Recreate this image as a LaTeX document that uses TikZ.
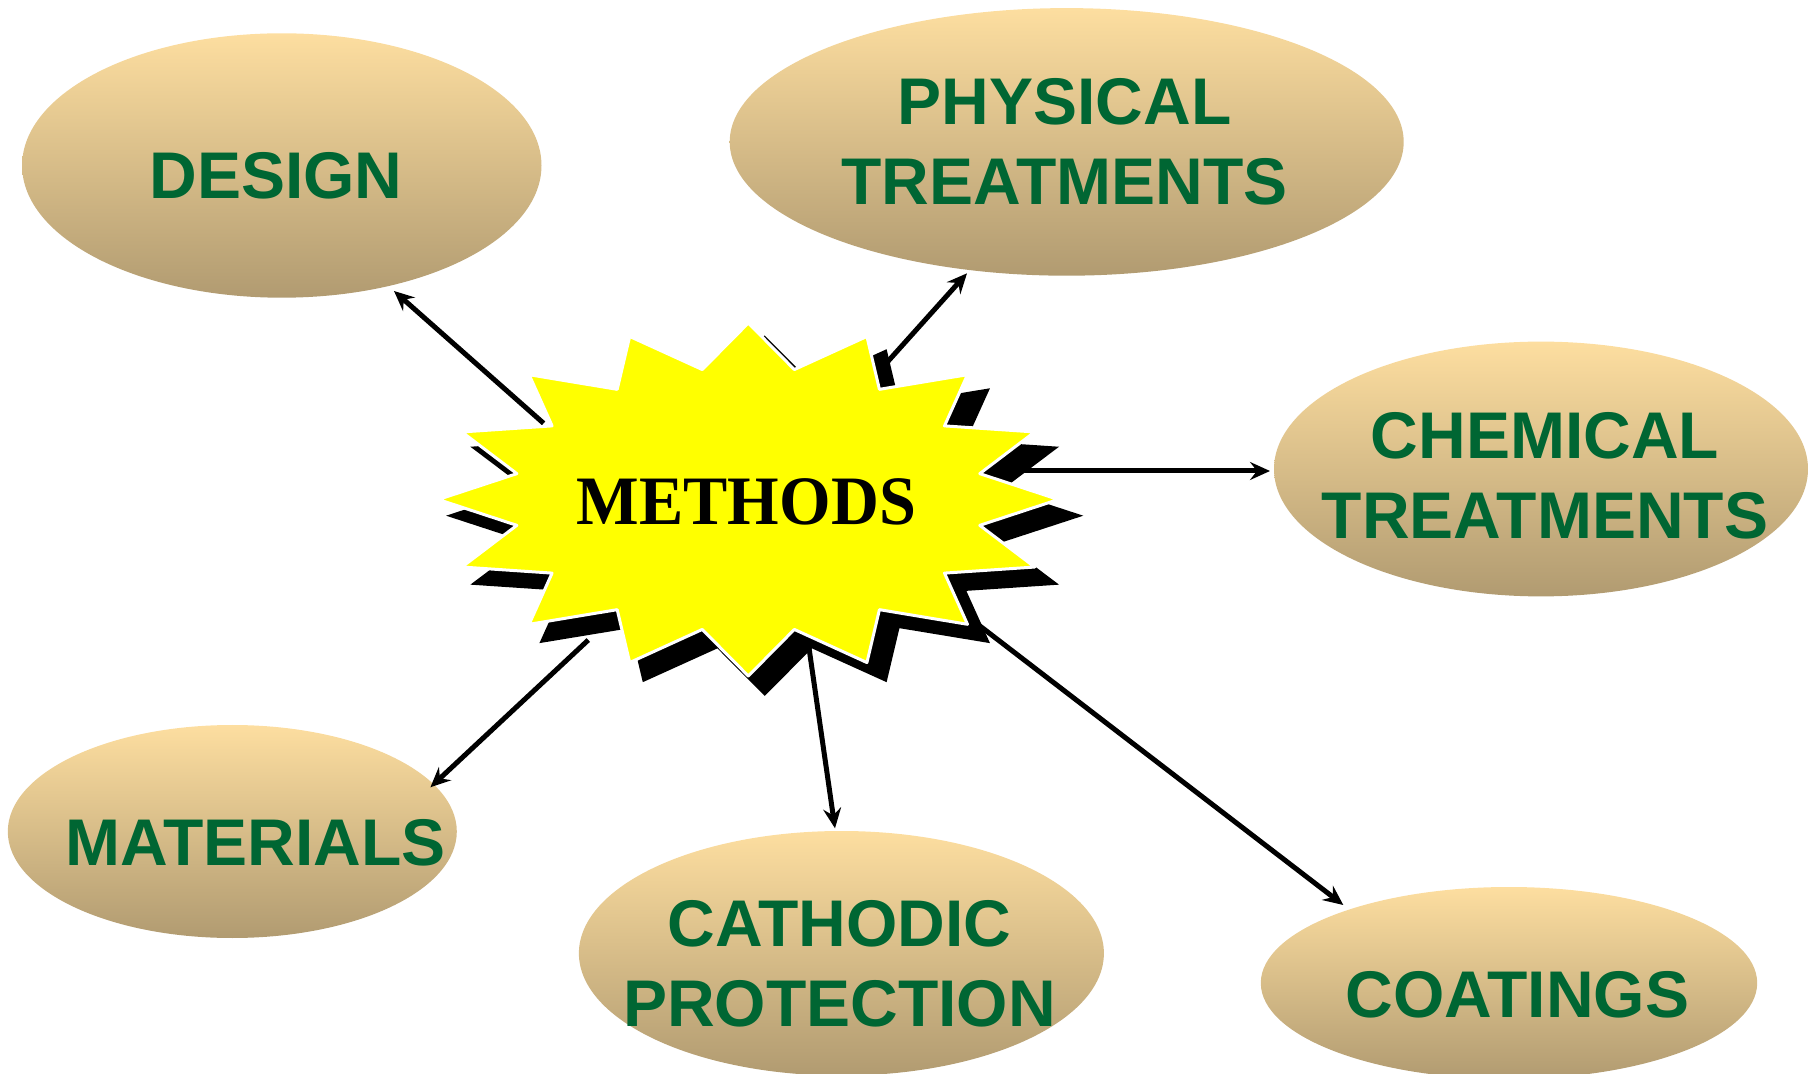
\documentclass[tikz,border=0pt]{standalone}
\usepackage{fontspec}
\setmainfont{Liberation Sans}
\newfontfamily\burstfont{Liberation Serif}
\usetikzlibrary{arrows.meta,shapes.geometric}

\definecolor{labelgreen}{RGB}{0,102,51}
\definecolor{ovaltop}{RGB}{253,222,160}
\definecolor{ovalbottom}{RGB}{177,155,113}
\definecolor{burstyellow}{RGB}{255,255,0}

% sixteen-point burst around the origin (outer tips on one ellipse, notches on a smaller one)
\newcommand\burstoutline{(0,-176.5)
  \foreach \k in {0,...,15} {
    -- ({236*sin(\k*22.5+11.25)},{-132.5*cos(\k*22.5+11.25)})
    -- ({310*sin(\k*22.5+22.5)},{-176.5*cos(\k*22.5+22.5)})
  } -- cycle}

\begin{document}
\begin{tikzpicture}[x=0.5pt,y=-0.5pt,
  oval/.style={ellipse, inner sep=0pt, outer sep=0pt, draw=none,
    top color=ovaltop, bottom color=ovalbottom},
  lbl/.style={anchor=base, inner sep=0pt, text=labelgreen, align=center,
    font=\fontsize{33}{40}\selectfont\bfseries},
  link/.style={draw=black, line width=2.5pt,
    -{Stealth[length=10pt,width=9pt,inset=3.5pt]}}
]
\useasboundingbox (0,0) rectangle (1816,1074);

% the six method ovals
\node[oval, minimum width=259.7pt, minimum height=132.2pt] (design)   at (281.8,165.5) {};
\node[oval, minimum width=337pt,   minimum height=133.8pt] (physical) at (1066.7,141.9) {};
\node[oval, minimum width=267pt,   minimum height=127.4pt] (chemical) at (1541,469) {};
\node[oval, minimum width=224.5pt, minimum height=106.5pt] (materials) at (232.3,831.5) {};
\node[oval, minimum width=262.5pt, minimum height=122.3pt] (cathodic) at (841.4,953.3) {};
\node[oval, minimum width=248.2pt, minimum height=96pt]    (coatings) at (1509,983) {};

% labels (a two-line label sits on the baseline of its last line)
\node[lbl] (design-t)    at (276,199)      {DESIGN};
\node[lbl] (physical-t)  at (1064.5,204.3) {PHYSICAL\\TREATMENTS};
\node[lbl] (chemical-t)  at (1545,539)     {CHEMICAL\\TREATMENTS};
\node[lbl] (materials-t) at (255.7,865)    {MATERIALS};
\node[lbl] (cathodic-t)  at (839.5,1026.7) {CATHODIC\hspace{0.278em}\\PROTECTION};
\node[lbl] (coatings-t)  at (1517.5,1017)  {COATINGS};

% starting points of the connectors, at the rim of the burst
\coordinate (s-design)    at (543.6,423.3);
\coordinate (s-physical)  at (882,368);
\coordinate (s-chemical)  at (1000,471);
\coordinate (s-coatings)  at (963,613);
\coordinate (s-cathodic)  at (809,648);
\coordinate (s-materials) at (588.3,640);

% arrow tips, placed just at the rim of each oval
\coordinate (t-design)    at ([shift={(112.2,125.5)}]design.center);
\coordinate (t-physical)  at ([shift={(-99.7,131.4)}]physical.center);
\coordinate (t-chemical)  at ([shift={(-271,2)}]chemical.center);
\coordinate (t-coatings)  at ([shift={(-165.7,-78)}]coatings.center);
\coordinate (t-cathodic)  at ([shift={(-6.4,-125)}]cathodic.center);
\coordinate (t-materials) at ([shift={(198.1,-44.2)}]materials.center);

\draw[link] (s-design)    -- (t-design);
\draw[link] (s-physical)  -- (t-physical);
\draw[link] (s-chemical)  -- (t-chemical);
\draw[link] (s-coatings)  -- (t-coatings);
\draw[link] (s-cathodic)  -- (t-cathodic);
\draw[link] (s-materials) -- (t-materials);

% drop shadow of the burst
\begin{scope}[shift={(764.7,515.7)}, xscale=1.0277, yscale=1.021]
  \fill[black] \burstoutline;
\end{scope}

% the burst itself
\begin{scope}[shift={(748.3,499.5)}]
  \filldraw[fill=burstyellow, draw=white, line width=1.5pt, line join=round] \burstoutline;
\end{scope}

\node[anchor=base, inner sep=0pt, font=\burstfont\bfseries\fontsize{34}{40}\selectfont]
  (methods) at (746.4,525) {\scalebox{0.975}[1.02]{METHODS}};
\end{tikzpicture}
\end{document}
